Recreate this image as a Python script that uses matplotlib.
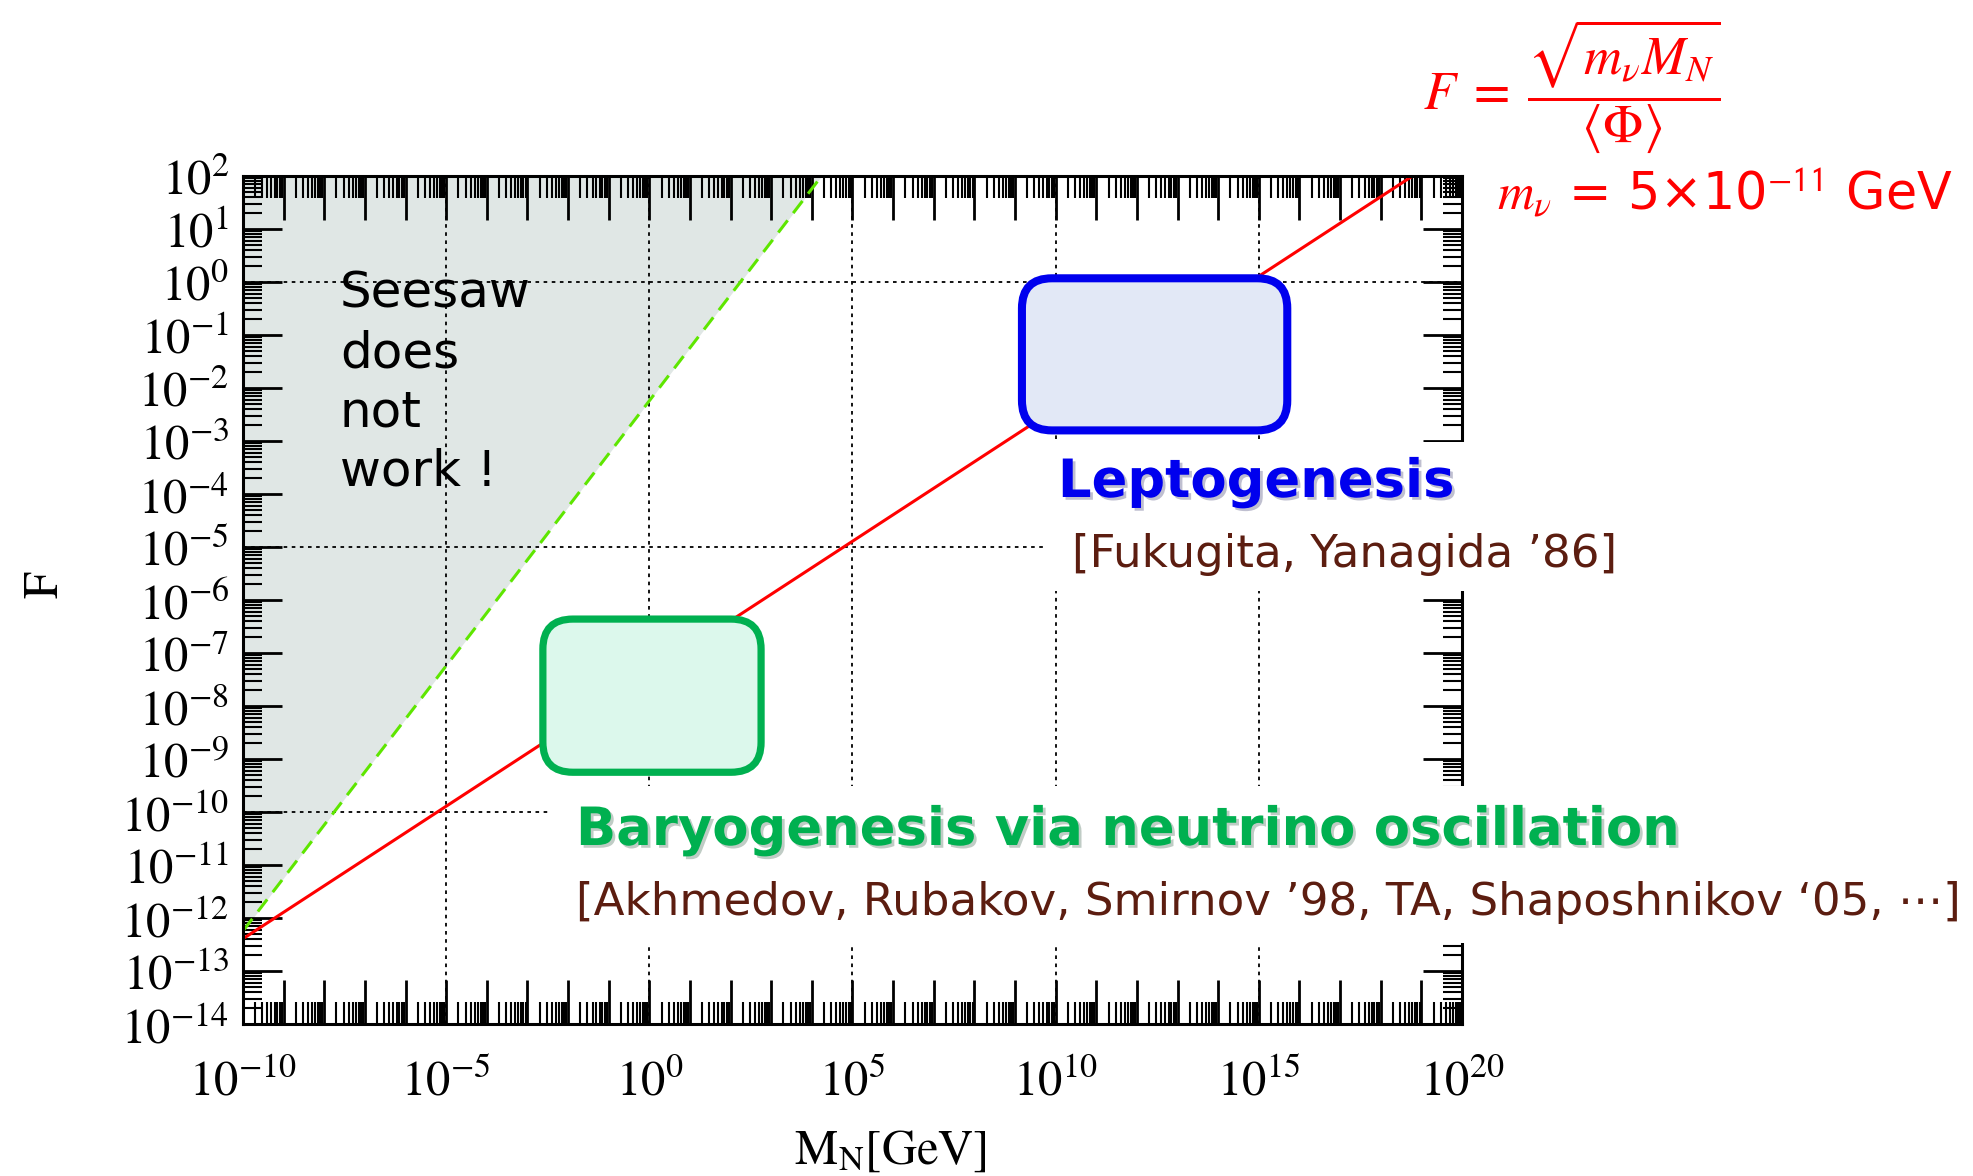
import numpy as np
import matplotlib
matplotlib.use("Agg")
import matplotlib.pyplot as plt
from matplotlib.patches import FancyBboxPatch, Rectangle
from matplotlib.transforms import IdentityTransform
from matplotlib.ticker import FixedLocator, FuncFormatter, LogLocator, NullFormatter
import matplotlib.patheffects as pe

plt.rcParams['mathtext.fontset'] = 'stix'
plt.rcParams['font.family'] = ['DejaVu Sans', 'Noto Sans']

# data
line_mn = [1e-10, 1e20]            # M_N [GeV]
line_f = [4.06e-13, 4.06e2]        # F = sqrt(m_nu M_N)/<Phi>
seesaw_mn = [1e-10, 1.74e4]        # seesaw limit F = M_N/<Phi>
seesaw_f = [5.7e-13, 1e2]
lepto_mn = [10**9.17, 10**15.7]    # leptogenesis box
lepto_f = [10**-2.8, 10**0.07]
baryo_mn = [10**-2.62, 10**2.75]   # ARS box
baryo_f = [10**-9.25, 10**-6.36]
grid_x = [1e-5, 1e0, 1e5, 1e10, 1e15]
grid_y = [1e0, 1e-5, 1e-10]
x_decades = np.arange(-10, 21)
y_decades = np.arange(-14, 3)

W, H = 1973, 1176
fig = plt.figure(figsize=(W / 100, H / 100), dpi=100)
ax = fig.add_axes([243 / W, 1 - 1024 / H, (1462 - 243) / W, (1024 - 176) / H])
ax.set_xscale('log')
ax.set_yscale('log')
ax.set_xlim(1e-10, 1e20)
ax.set_ylim(1e-14, 1e2)

# shaded "seesaw does not work" region
ax.fill_between(seesaw_mn, seesaw_f, 1e2, color='#e0e7e5', lw=0, zorder=0.5)
for gx in grid_x:
    ax.axvline(gx, color='black', lw=1.3, ls=(0, (2, 2.5)), zorder=0.8)
for gy in grid_y:
    ax.axhline(gy, color='black', lw=1.3, ls=(0, (2, 2.5)), zorder=0.8)
ax.plot(seesaw_mn, seesaw_f, color='#5ee600', lw=2.2, ls=(0, (5, 3)), zorder=2)
ax.plot(line_mn, line_f, color='#ff0000', lw=2.2, zorder=2)

# ticks
ax.xaxis.set_major_locator(FixedLocator(10.0 ** x_decades))
ax.xaxis.set_minor_locator(LogLocator(base=10, subs=np.arange(2, 10), numticks=200))
ax.yaxis.set_major_locator(FixedLocator(10.0 ** y_decades))
ax.yaxis.set_minor_locator(LogLocator(base=10, subs=np.arange(2, 10), numticks=200))
ax.xaxis.set_major_formatter(FuncFormatter(
    lambda v, p: f'$10^{{{int(round(np.log10(v)))}}}$' if int(round(np.log10(v))) % 5 == 0 else ''))
ax.yaxis.set_major_formatter(FuncFormatter(lambda v, p: f'$10^{{{int(round(np.log10(v)))}}}$'))
ax.xaxis.set_minor_formatter(NullFormatter())
ax.yaxis.set_minor_formatter(NullFormatter())
ax.tick_params(which='both', direction='in', top=True, right=True, labelsize=35, colors='black')
ax.tick_params(axis='x', which='major', length=32, width=2, pad=24)
ax.tick_params(axis='x', which='minor', length=16, width=1.5)
ax.tick_params(axis='y', which='major', length=28, width=2, pad=10)
ax.tick_params(axis='y', which='minor', length=14, width=1.5)
for s in ax.spines.values():
    s.set_linewidth(2.2)

# rounded boxes (drawn in pixels so the corners stay round on log axes)
def rounded_box(mn, f, edge, face, lw):
    x0, y0 = ax.transData.transform((mn[0], f[0]))
    x1, y1 = ax.transData.transform((mn[1], f[1]))
    box = FancyBboxPatch((x0, y0), x1 - x0, y1 - y0,
                         boxstyle='round,pad=0,rounding_size=30',
                         transform=IdentityTransform(), facecolor=face,
                         edgecolor=edge, lw=lw, zorder=3, clip_on=False)
    ax.add_patch(box)

rounded_box(lepto_mn, lepto_f, '#0000ee', '#e2e8f6', 5.8)
rounded_box(baryo_mn, baryo_f, '#00b050', '#dcf8ec', 5.2)

# white patches behind the labels
fig.patches.append(Rectangle((1044 / W, 1 - 591 / H), (1640 - 1044) / W, (591 - 442) / H,
                             transform=fig.transFigure, facecolor='white', edgecolor='none', zorder=1))
fig.patches.append(Rectangle((550 / W, 1 - 943 / H), (W - 550) / W, (943 - 786) / H,
                             transform=fig.transFigure, facecolor='white', edgecolor='none', zorder=1))

shadow = [pe.SimplePatchShadow(offset=(2, -2), alpha=0.25), pe.Normal()]
brown = '#5c1d10'

fig.text(340 / W, 1 - 270 / H, 'Seesaw\ndoes\nnot\nwork !', fontsize=36,
         ha='left', va='top', linespacing=1.29)
fig.text(1256 / W, 1 - 482 / H, 'Leptogenesis', fontsize=38, fontweight='bold',
         color='#0000ee', ha='center', va='center', path_effects=shadow, zorder=4)
fig.text(1072 / W, 1 - 554 / H, '[Fukugita, Yanagida \u201986]', fontsize=32.5,
         color=brown, ha='left', va='center', zorder=4)
fig.text(576 / W, 1 - 830 / H, 'Baryogenesis via neutrino oscillation', fontsize=38,
         fontweight='bold', color='#00b050', ha='left', va='center', path_effects=shadow, zorder=4)
fig.text(576 / W, 1 - 903 / H,
         '[Akhmedov, Rubakov, Smirnov \u201998, TA, Shaposhnikov \u201805, \u22ef]',
         fontsize=32.5, color=brown, ha='left', va='center', zorder=4)

fig.text(1572 / W, 1 - 86 / H, r'$F\;=\;\dfrac{\sqrt{m_\nu M_N}}{\langle\Phi\rangle}$',
         fontsize=38, color='red', ha='center', va='center')
fig.text(1497 / W, 1 - 193 / H, r'$m_\nu$ = 5×10$^{\mathsf{-11}}$ GeV',
         fontsize=36.5, color='red', ha='left', va='center')

fig.text(890 / W, 1 - 1150 / H, r'$\mathrm{M_N[GeV]}$', fontsize=35, ha='center', va='center')
fig.text(44 / W, 1 - 585 / H, r'$\mathrm{F}$', fontsize=35, ha='center', va='center', rotation=90)

fig.savefig('out.png', dpi=100, facecolor='white')
